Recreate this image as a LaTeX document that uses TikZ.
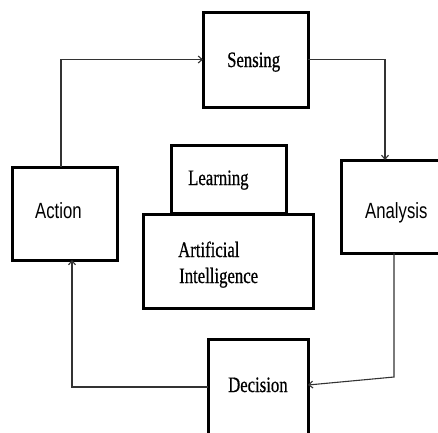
\documentclass[tikz,border=0pt]{standalone}
\usepackage{fontspec}
\setmainfont[FakeStretch=0.76,FakeBold=0.6]{Liberation Serif}
\newfontfamily\condsans[FakeStretch=0.76]{Liberation Sans}
\usetikzlibrary{arrows.meta}
\begin{document}
\begin{tikzpicture}[x=1pt,y=-1pt,
  box/.style={draw=black,line width=3pt,fill=white,inner sep=0pt,outer sep=0pt},
  lbl/.style={anchor=base west,inner sep=0pt,font=\fontsize{22}{27}\selectfont},
  slbl/.style={anchor=base west,inner sep=0pt,font=\condsans\fontsize{22}{27}\selectfont},
  conn/.style={draw=black!80,line width=1.1pt,-{Straight Barb[length=4pt,width=7pt]}}]
\useasboundingbox (0,0) rectangle (438,432);
\clip (0,0) rectangle (438,432);
% boxes
\node[box,minimum width=105pt,minimum height=95pt] (Sensing) at (255.5,59.5) {};
\node[box,minimum width=105pt,minimum height=93pt] (Action) at (64.5,213.5) {};
\node[box,minimum width=101pt,minimum height=93pt] (Analysis) at (391.5,206.5) {};
\node[box,minimum width=115pt,minimum height=68pt] (Learning) at (228.5,179) {};
\node[box,minimum width=170pt,minimum height=94pt] (AI) at (228,261) {};
\node[box,minimum width=100pt,minimum height=96pt] (Decision) at (258,387) {};
% texts
\node[lbl] (tSensing) at (227,67) {Sensing};
\node[slbl] (tAction) at (35,218) {Action};
\node[slbl] (tAnalysis) at (365,218) {Analysis};
\node[lbl] (tLearning) at (188,185) {Learning};
\node[lbl] (tArt) at (178,257) {Artificial};
\node[lbl] (tInt) at (179,283) {Intelligence};
\node[lbl] (tDecision) at (228,392) {Decision};
% connectors
\coordinate (bend) at ([xshift=2.5pt]Analysis.south |- 0,377);
\draw[conn] ([xshift=-3.5pt]Action.north) |- (Sensing.west);
\draw[conn] (Sensing.east) -| ([xshift=-6.5pt]Analysis.north);
\draw[conn] ([xshift=2.5pt]Analysis.south) -- (bend) -- ([yshift=2pt]Decision.east);
\draw[conn] (Decision.west) -| ([xshift=7.5pt]Action.south);
\end{tikzpicture}
\end{document}
